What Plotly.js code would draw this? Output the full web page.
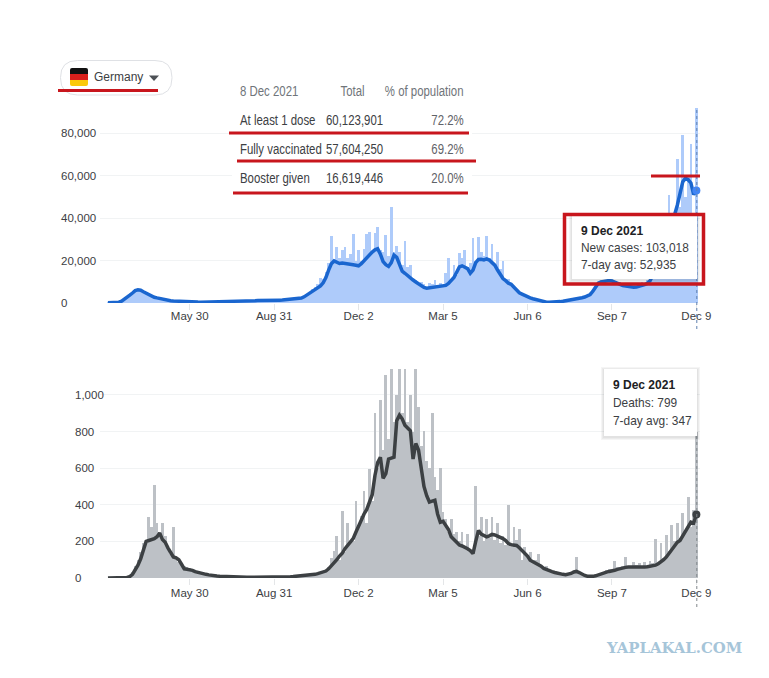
<!DOCTYPE html>
<html>
<head>
<meta charset="utf-8">
<script src="https://cdn.plot.ly/plotly-3.0.1.min.js"></script>
<style>html,body{margin:0;padding:0;background:#fff;overflow:hidden}</style>
</head>
<body>
<div id="chart" style="width:769px;height:678px"></div>
<script>
// Readings taken every third day, from 1 Mar 2020 to 9 Dec 2021
const firstDay = '2020-03-01';
const stepDays = 3;

const casesDaily = [
100,150,200,300,500,1000,1900,3000,4000,5200,
6500,6800,6300,5500,4800,4000,3300,2700,2500,2000,
1700,1400,1200,1100,950,850,750,700,650,600,
550,500,450,420,400,420,480,550,600,620,
600,550,520,500,520,560,600,650,700,750,
800,850,920,1000,1100,1180,1250,1300,1280,1230,
1200,1250,1300,1350,1400,1500,1650,1800,1950,2050,
2000,2400,3000,4400,4200,6500,7500,9000,12000,11500,
14600,19000,31500,20000,26500,21000,25000,26500,21000,23000,
32700,20000,25000,20000,25600,32700,33500,24000,33000,36000,
25000,24000,32000,22000,45400,24000,27000,24000,18000,29000,
17000,18000,12000,10700,9500,10000,9000,7000,9500,9000,
10700,7000,9500,8500,14000,21000,11000,17800,13000,23300,
21000,25000,17000,19000,30400,20000,31000,24000,22000,31500,
21000,28000,18000,24000,16000,20000,11000,11500,8000,8000,
6000,5000,4500,3800,3000,2500,2100,1700,1300,900,
650,450,350,350,400,550,700,900,1100,1300,
1600,1900,2100,2500,2700,3000,3600,4500,6000,8000,
10000,10800,10000,11000,10500,11500,10000,9000,10000,8500,
8500,9000,8000,9500,8000,9000,10000,9500,11000,11500,
12000,15000,18000,22000,25000,30000,50700,20000,38000,68000,
45000,79000,50000,60000,75000,40000,103018];

const casesAvg = [
100,150,150,200,400,900,1700,2600,3700,4700,
5800,6200,6000,5300,4600,3900,3200,2700,2400,2100,
1700,1400,1200,1100,950,850,750,700,650,600,
550,500,450,420,400,420,480,550,600,620,
580,550,520,500,520,560,600,650,700,750,
800,850,920,1000,1100,1180,1250,1300,1280,1230,
1200,1250,1300,1350,1400,1500,1650,1800,1950,2050,
2150,2300,2900,3700,4600,5500,6300,7200,8000,9500,
12000,15500,18500,19800,19200,18600,18800,18500,18300,18200,
18000,17800,17500,18500,20000,21500,23000,24000,25000,25500,
23000,19500,18000,17200,19000,22500,21500,18000,15000,14000,
12800,11500,10800,9900,9000,8000,7300,7000,7200,7400,
7600,7800,8000,8200,8300,9200,10500,12000,14500,17000,
17500,16800,16200,14000,15500,19000,20500,20600,20300,20800,
20200,19000,17800,15500,13500,11500,10500,9300,8800,7500,
5800,4800,4200,3500,2900,2400,2000,1600,1200,850,
600,400,300,300,350,500,650,800,1000,1200,
1500,1800,2000,2300,2500,2800,3300,4000,5500,7500,
9300,9900,10200,10500,10600,10400,10000,9500,8800,8200,
7900,7700,7500,7400,7500,7800,8100,8600,9200,10500,
13000,16500,20000,24000,28000,33000,36000,39000,41500,46000,
52000,57000,58700,58000,56500,51000,52935];

const deathsDaily = [
0,0,0,1,1,2,3,5,15,35,
65,100,140,190,210,335,280,510,300,250,
300,230,170,130,280,120,90,70,65,60,
55,45,38,33,28,26,22,18,16,14,
12,11,10,9,8,7,7,6,6,6,
5,5,5,5,5,7,6,5,5,5,
5,4,4,5,5,7,8,9,10,11,
12,13,14,16,18,20,24,28,32,40,
40,60,110,150,230,100,365,140,300,200,
200,420,280,340,475,300,595,420,900,600,
975,700,1110,760,1150,850,1000,1150,900,1150,
850,1000,800,1150,935,720,805,640,600,900,
550,480,600,360,320,250,320,240,250,200,
250,170,240,150,130,505,230,335,200,325,
220,335,210,300,190,230,180,400,170,280,
210,270,100,170,120,142,90,100,130,70,
60,65,40,35,28,22,25,20,15,22,
25,40,115,30,20,15,12,10,12,15,
22,28,35,42,50,48,95,60,50,65,
115,55,60,90,70,80,60,85,70,95,
80,215,90,190,110,233,150,288,200,300,
220,355,250,442,280,370,799];

const deathsAvg = [
0,0,0,1,1,1,2,3,8,20,
45,70,105,150,200,205,210,215,225,245,
210,195,165,140,115,110,100,75,50,48,
46,42,35,30,26,24,20,17,14,12,
11,10,9,8,7,6,6,5,5,5,
4,4,4,4,4,5,5,4,4,4,
4,3,3,4,4,5,6,7,8,9,
10,11,12,14,16,18,20,24,28,34,
38,50,65,85,100,120,135,160,180,200,
215,250,285,320,350,375,410,455,560,630,
660,545,570,650,655,660,860,890,870,835,
820,805,650,735,700,600,500,450,415,420,
425,350,305,310,290,265,225,210,190,180,
175,170,160,150,133,200,260,240,230,225,
230,238,235,230,225,215,205,188,182,180,
178,165,150,140,120,97,90,82,75,65,
52,45,40,35,30,25,22,20,18,20,
25,33,36,30,20,14,10,9,9,12,
18,22,27,32,36,38,42,47,52,55,
58,60,60,58,56,56,58,60,62,65,
68,70,78,88,100,115,135,155,180,195,
205,230,260,285,305,300,347];

const xTickDates = ['2020-05-30','2020-08-31','2020-12-02','2021-03-05','2021-06-06','2021-09-07','2021-12-09'];
const xTickLabels = ['May 30','Aug 31','Dec 2','Mar 5','Jun 6','Sep 7','Dec 9'];
const casesTicks = [0,20000,40000,60000,80000];
const casesTickLabels = ['0','20,000','40,000','60,000','80,000'];
const deathsTicks = [0,200,400,600,800,1000];
const deathsTickLabels = ['0','200','400','600','800','1,000'];

const tableHeader = ['8 Dec 2021','Total','% of population'];
const tableNames = ['At least 1 dose','Fully vaccinated','Booster given'];
const tableTotals = ['60,123,901','57,604,250','16,619,446'];
const tablePercents = ['72.2%','69.2%','20.0%'];

const dates = casesDaily.map((_, i) => {
  const d = new Date(firstDay + 'T00:00:00Z');
  d.setUTCDate(d.getUTCDate() + i * stepDays);
  return d.toISOString().slice(0, 10);
});
const lastDate = dates[dates.length - 1];

const W = 769, H = 678;
const X = p => p / W;
const Y = p => 1 - p / H;
const xRange = ['2020-02-21 05:00', '2021-12-13'];

const traces = [
  {type:'bar', x:dates, y:casesDaily, xaxis:'x', yaxis:'y', marker:{color:'#aecbfa', line:{width:0}}, hoverinfo:'skip'},
  {type:'scatter', mode:'lines', x:dates, y:casesAvg, xaxis:'x', yaxis:'y', line:{color:'#1a66cf', width:3.5}, hoverinfo:'skip'},
  {type:'scatter', mode:'markers', x:[lastDate], y:[casesAvg[casesAvg.length-1]], xaxis:'x', yaxis:'y', marker:{color:'#4285f4', size:8}, cliponaxis:false, hoverinfo:'skip'},
  {type:'bar', x:dates, y:deathsDaily, xaxis:'x2', yaxis:'y2', marker:{color:'#bdc1c6', line:{width:0}}, hoverinfo:'skip'},
  {type:'scatter', mode:'lines', x:dates, y:deathsAvg, xaxis:'x2', yaxis:'y2', line:{color:'#3c4043', width:3.5}, hoverinfo:'skip'},
  {type:'scatter', mode:'markers', x:[lastDate], y:[deathsAvg[deathsAvg.length-1]], xaxis:'x2', yaxis:'y2', marker:{color:'#3c4043', size:8}, cliponaxis:false, hoverinfo:'skip'}
];

const mainFont = '"Liberation Sans", Arial, sans-serif';
const xAxisBase = {
  type:'date', range:xRange, domain:[X(100), X(700)],
  tickmode:'array', tickvals:xTickDates, ticktext:xTickLabels,
  ticks:'outside', ticklen:6, tickcolor:'#e4e6e8', tickwidth:1,
  tickfont:{family:mainFont, size:11.5, color:'#3c4043'},
  showgrid:false, zeroline:false, showline:false, fixedrange:true
};
const yAxisBase = {
  showticklabels:false, ticks:'', tickmode:'array', showgrid:true,
  gridcolor:'#f1f3f4', gridwidth:1, zeroline:false, showline:false, fixedrange:true
};

const rr = (x0, y0, x1, y1, r) =>
  `M${X(x0+r)},${Y(y0)} L${X(x1-r)},${Y(y0)} Q${X(x1)},${Y(y0)} ${X(x1)},${Y(y0+r)} ` +
  `L${X(x1)},${Y(y1-r)} Q${X(x1)},${Y(y1)} ${X(x1-r)},${Y(y1)} L${X(x0+r)},${Y(y1)} ` +
  `Q${X(x0)},${Y(y1)} ${X(x0)},${Y(y1-r)} L${X(x0)},${Y(y0+r)} Q${X(x0)},${Y(y0)} ${X(x0+r)},${Y(y0)} Z`;

const box = (x0, y0, x1, y1, extra) => Object.assign(
  {type:'rect', xref:'paper', yref:'paper', x0:X(x0), x1:X(x1), y0:Y(y1), y1:Y(y0), layer:'above', line:{width:0}}, extra);
const hline = (x0, x1, y, color, width) => (
  {type:'line', xref:'paper', yref:'paper', x0:X(x0), x1:X(x1), y0:Y(y), y1:Y(y), layer:'above', line:{color, width}});
const pathShape = (path, fill, line) => (
  {type:'path', xref:'paper', yref:'paper', path, fillcolor:fill, layer:'above', line:line || {width:0}});
const shadow = (x0, y0, x1, y1) => [3,2,1].map(s => box(x0-s, y0-s+1, x1+s, y1+s+1, {fillcolor:'rgba(60,64,67,0.05)'}));

const red = '#c8161d';
const shapes = [
  // table backdrop
  box(232, 78, 472, 195, {fillcolor:'#ffffff'}),
  // country selector
  pathShape(rr(60.5, 60.5, 172, 95, 17), '#ffffff', {color:'#dfe1e5', width:1}),
  pathShape(`M${X(70)},${Y(74)} L${X(70)},${Y(70)} Q${X(70)},${Y(68)} ${X(72)},${Y(68)} L${X(86)},${Y(68)} Q${X(88)},${Y(68)} ${X(88)},${Y(70)} L${X(88)},${Y(74)} Z`, '#111111'),
  box(70, 74, 88, 80, {fillcolor:'#d8201c'}),
  pathShape(`M${X(70)},${Y(80)} L${X(88)},${Y(80)} L${X(88)},${Y(84)} Q${X(88)},${Y(86)} ${X(86)},${Y(86)} L${X(72)},${Y(86)} Q${X(70)},${Y(86)} ${X(70)},${Y(84)} Z`, '#fbc90a'),
  pathShape(`M${X(149)},${Y(75.5)} L${X(159)},${Y(75.5)} L${X(154)},${Y(81)} Z`, '#4d5156'),
  // hover guide lines
  {type:'line', xref:'paper', yref:'paper', x0:X(696.8), x1:X(696.8), y0:Y(329), y1:Y(108), layer:'above', line:{color:'#5f7fae', width:1, dash:'dot'}},
  {type:'line', xref:'paper', yref:'paper', x0:X(696.8), x1:X(696.8), y0:Y(607), y1:Y(436), layer:'above', line:{color:'#80868b', width:1, dash:'dot'}},
  // tooltips
  ...shadow(572, 215, 697, 279),
  box(572, 215, 697, 279, {fillcolor:'#ffffff'}),
  ...shadow(604, 369, 697, 436),
  box(604, 369, 697, 436, {fillcolor:'#ffffff'}),
  // red marks
  hline(58, 158, 90.5, red, 3),
  hline(229, 469, 133, red, 3),
  hline(237, 476, 161, red, 3),
  hline(233, 468, 193, red, 3),
  hline(651, 700, 176, red, 3),
  box(564.5, 214.5, 703.5, 284, {line:{color:red, width:3.5}, fillcolor:'rgba(0,0,0,0)'})
];

const note = (text, x, y, opts) => Object.assign({
  text, xref:'paper', yref:'paper', x:X(x), y:Y(y), xanchor:'left', yanchor:'middle',
  showarrow:false, align:'left', borderpad:0,
  font:{family:mainFont, size:11.9, color:'#3c4043'}
}, opts || {});
const tableFont = (color) => ({font:{family:mainFont, size:14, color}});

const tableNotes = [
  note(tableHeader[0], 239, 91, tableFont('#70757a')),
  note(tableHeader[1], 366, 91, Object.assign({xanchor:'right'}, tableFont('#70757a'))),
  note(tableHeader[2], 465, 91, Object.assign({xanchor:'right'}, tableFont('#70757a'))),
  ...tableNames.map((t, i) => note(t, 239, 120 + 29 * i, tableFont('#3c4043'))),
  ...tableTotals.map((t, i) => note(t, 325, 120 + 29 * i, tableFont('#3c4043'))),
  ...tablePercents.map((t, i) => note(t, 465, 120 + 29 * i, Object.assign({xanchor:'right'}, tableFont('#5f6368'))))
];

const annotations = [
  ...tableNotes,
  note('Germany', 93, 77.5, {font:{family:mainFont, size:12, color:'#3c4043'}}),
  ...casesTicks.map((v, i) => note(casesTickLabels[i], 60, 0, {yref:'y', y:v, font:{family:mainFont, size:11.5, color:'#3c4043'}})),
  ...deathsTicks.map((v, i) => note(deathsTickLabels[i], 74, 0, {yref:'y2', y:v, font:{family:mainFont, size:11.5, color:'#3c4043'}})),
  note('<b>9 Dec 2021</b>', 580, 231, {font:{family:mainFont, size:12, color:'#202124'}}),
  note('New cases: 103,018', 580, 248.5),
  note('7-day avg: 52,935', 580, 265),
  note('<b>9 Dec 2021</b>', 612, 385, {font:{family:mainFont, size:12, color:'#202124'}}),
  note('Deaths: 799', 612, 403),
  note('7-day avg: 347', 612, 421),
  note('<b>YAPLAKAL.COM</b>', 605, 648, {font:{family:'"DejaVu Serif", serif', size:14.9, color:'#a6c5d9'}})
];

const layout = {
  width:W, height:H, margin:{l:0, r:0, t:0, b:0, pad:0},
  paper_bgcolor:'#ffffff', plot_bgcolor:'#ffffff', showlegend:false,
  barmode:'overlay', bargap:0, hovermode:false,
  xaxis:Object.assign({}, xAxisBase, {anchor:'y', ticklabelstandoff:-4}),
  yaxis:Object.assign({}, yAxisBase, {domain:[Y(303), Y(108)], range:[0, 91765], tickvals:casesTicks, anchor:'x'}),
  xaxis2:Object.assign({}, xAxisBase, {anchor:'y2', ticklabelstandoff:-2}),
  yaxis2:Object.assign({}, yAxisBase, {domain:[Y(578), Y(369)], range:[0, 1142], tickvals:deathsTicks, anchor:'x2'}),
  shapes, annotations
};
Plotly.newPlot('chart', traces, layout, {displayModeBar:false, responsive:false}).then(gd => {
  // The table's text is condensed in the reference: squeeze it about its anchored edge
  const squeeze = 0.815;
  gd.querySelectorAll('.annotation').forEach(g => {
    const idx = +g.getAttribute('data-index');
    if (idx >= tableNotes.length) return;
    const t = g.querySelector('.annotation-text');
    const b = t.getBBox();
    const ax = tableNotes[idx].xanchor === 'right' ? b.x + b.width : b.x;
    t.setAttribute('transform', `translate(${ax},0) scale(${squeeze},1) translate(${-ax},0)`);
  });
});
</script>
</body>
</html>
